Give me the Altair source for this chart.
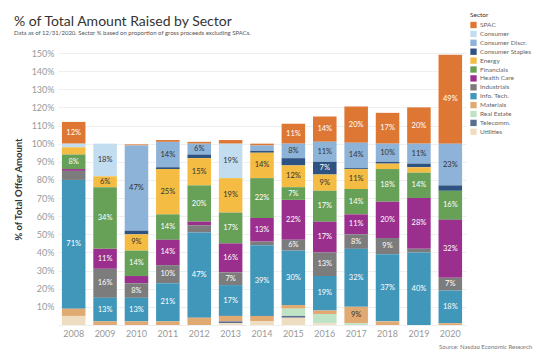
import altair as alt
import pandas as pd

years = ["2008", "2009", "2010", "2011", "2012", "2013", "2014",
         "2015", "2016", "2017", "2018", "2019", "2020"]

sectors = ["SPAC", "Consumer", "Consumer Discr.", "Consumer Staples", "Energy",
           "Financials", "Health Care", "Industrials", "Info. Tech.", "Materials",
           "Real Estate", "Telecomm.", "Utilities"]

colors = ["#DD7733", "#C2DCF0", "#8EB3D8", "#2E5281", "#F4BC43",
          "#67A057", "#9A2F8D", "#7C7C7C", "#4197BA", "#E0AA72",
          "#BFE3C5", "#5C6D93", "#EEDDC1"]

spac        = [12, 0, 0.6, 1, 1, 2, 1, 11, 14, 20, 17, 20, 49]
consumer    = [2, 18, 0, 0, 0, 19, 0, 0, 0, 0, 0, 0, 0]
cons_discr  = [0, 0, 47, 14, 6, 0, 3, 8, 11, 14, 10, 11, 23]
cons_stapl  = [0, 0, 2, 1, 2, 0, 1, 4, 7, 0.5, 1, 2, 3]
energy      = [4, 6, 9, 25, 15, 19, 14, 12, 9, 11, 3, 3, 0]
financials  = [8, 34, 14, 14, 20, 17, 22, 7, 17, 14, 18, 14, 16]
health      = [1, 11, 4, 14, 2, 16, 13, 22, 17, 11, 20, 28, 32]
industrials = [5, 16, 8, 10, 4, 7, 2, 6, 13, 8, 9, 2, 7]
info_tech   = [71, 13, 13, 21, 47, 17, 39, 30, 19, 32, 37, 40, 18]
materials   = [4, 2, 2, 2, 4, 3, 3, 2, 2, 9, 2, 0, 1]
real_estate = [0, 0, 0, 0, 0, 0, 0, 4, 5, 1, 0, 0, 0]
telecomm    = [0, 0, 0, 0, 0, 1, 0, 1, 0, 0, 0, 0, 0]
utilities   = [5, 0, 0, 0, 0, 1, 2, 4, 1, 0, 0, 0, 0]

series = [spac, consumer, cons_discr, cons_stapl, energy, financials, health,
          industrials, info_tech, materials, real_estate, telecomm, utilities]

y_ticks = list(range(0, 151, 10))

title_text = "% of Total Amount Raised by Sector"
subtitle_text = "Data as of 12/31/2020. Sector % based on proportion of gross proceeds excluding SPACs."
source_text = "Source: Nasdaq Economic Research"

dark_label = {"Consumer", "Consumer Discr.", "Energy", "Materials"}

rows = []
for i, (name, vals) in enumerate(zip(sectors, series)):
    for y, v in zip(years, vals):
        if v > 0:
            rows.append({
                "Year": y, "Sector": name, "value": v,
                "ord": len(sectors) - 1 - i,
                "label": f"{round(v)}%" if v >= 6 else "",
                "dark": name in dark_label,
            })
df = pd.DataFrame(rows)

FONT = "Lato"
y_scale = alt.Scale(domain=[0, 150], nice=False)
y_axis = alt.Axis(values=y_ticks, labelOverlap=False,
                  labelExpr="datum.value == 0 ? '' : datum.value + '%'",
                  domain=False, ticks=False, grid=True,
                  gridColor="#EFEFEF", gridWidth=1,
                  labelColor="#999999", labelFontSize=9,
                  labelFont=FONT, labelPadding=4,
                  titleFont=FONT, titleFontSize=9.5,
                  titleColor="#333333", titleFontWeight="bold",
                  titlePadding=8)

base = alt.Chart(df)

x_enc = alt.X("Year:N", sort=years, title=None,
              scale=alt.Scale(paddingInner=0.25, paddingOuter=0.125),
              axis=alt.Axis(labelAngle=0, domain=False, ticks=False,
                            labelColor="#999999", labelFontSize=9,
                            labelPadding=4, labelFont=FONT))

bars = base.mark_bar().encode(
    x=x_enc,
    y=alt.Y("value:Q", stack="zero", scale=y_scale,
            title="% of Total Offer Amount", axis=y_axis),
    color=alt.Color("Sector:N", sort=sectors,
                    scale=alt.Scale(domain=sectors, range=colors),
                    legend=alt.Legend(orient="none", legendX=412, legendY=-41,
                                      title="Sector", titleFontSize=6.5,
                                      titleFont=FONT, titleColor="#333333",
                                      titleFontWeight="normal", titlePadding=3,
                                      labelFontSize=6.5, labelFont=FONT,
                                      labelColor="#666666", symbolType="square",
                                      symbolSize=40, symbolStrokeWidth=0,
                                      symbolOpacity=1, rowPadding=1.9,
                                      labelOffset=3)),
    order=alt.Order("ord:Q", sort="ascending"),
)

labels = base.transform_window(
    cum="sum(value)", groupby=["Year"], sort=[alt.SortField("ord")]
).transform_calculate(
    mid="datum.cum - datum.value / 2"
).mark_text(fontSize=7.5, font=FONT).encode(
    x=alt.X("Year:N", sort=years, title=None,
            scale=alt.Scale(paddingInner=0.25, paddingOuter=0.125)),
    y=alt.Y("mid:Q", stack=None, scale=y_scale,
            title="% of Total Offer Amount", axis=y_axis),
    text="label:N",
    color=alt.condition("datum.dark", alt.value("#333333"), alt.value("white")),
)

texts = pd.DataFrame({
    "t": [title_text, subtitle_text, source_text],
    "kind": ["title", "subtitle", "source"],
})

title_mark = alt.Chart(texts).transform_filter("datum.kind == 'title'").mark_text(
    align="left", baseline="alphabetic", fontSize=14, font=FONT, color="#333333"
).encode(x=alt.value(-44), y=alt.value(-27), text="t:N")

subtitle_mark = alt.Chart(texts).transform_filter("datum.kind == 'subtitle'").mark_text(
    align="left", baseline="alphabetic", fontSize=6, font=FONT, color="#555555"
).encode(x=alt.value(-44), y=alt.value(-18), text="t:N")

source_mark = alt.Chart(texts).transform_filter("datum.kind == 'source'").mark_text(
    align="left", baseline="middle", fontSize=6, font=FONT, color="#777777"
).encode(x=alt.value(381), y=alt.value(294), text="t:N")

chart = alt.layer(bars, labels, title_mark, subtitle_mark, source_mark).properties(
    width=408, height=272,
    autosize=alt.AutoSizeParams(type="none"),
    padding={"left": 50, "top": 45, "right": 76, "bottom": 24},
).configure_view(stroke=None)

chart.save("out.html", embed_options={"renderer": "svg", "actions": False})
